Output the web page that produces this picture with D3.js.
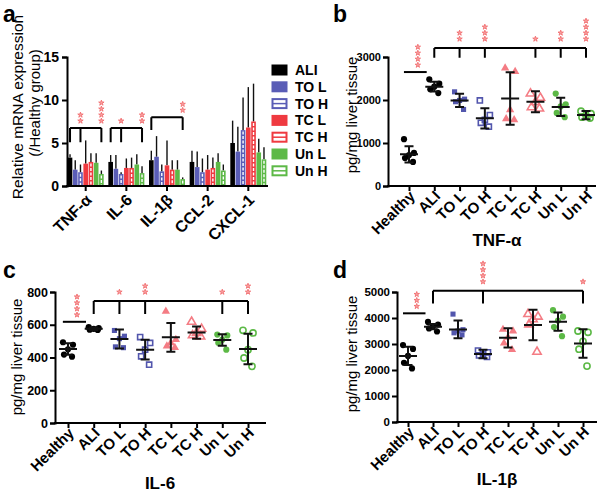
<!DOCTYPE html>
<html>
<head>
<meta charset="utf-8">
<script src="https://cdn.jsdelivr.net/npm/d3@7/dist/d3.min.js"></script>
<style>
  body { margin: 0; background: #fff; }
  text { font-family: "Liberation Sans", Arial, sans-serif; }
</style>
</head>
<body>
<svg id="fig" width="600" height="496"></svg>
<script>
// ---- panel a : relative mRNA expression (mean, SD) ----
const genes = ['TNF-α', 'IL-6', 'IL-1β', 'CCL-2', 'CXCL-1'];
const groups = ['ALI', 'TO L', 'TO H', 'TC L', 'TC H', 'Un L', 'Un H'];

const mrnaALI = [3.3, 2.8, 3.0, 2.8, 5.0];
const mrnaTOL = [1.9, 2.0, 3.4, 2.2, 4.0];
const mrnaTOH = [1.6, 1.4, 1.7, 1.6, 6.5];
const mrnaTCL = [2.6, 2.1, 2.4, 1.9, 6.8];
const mrnaTCH = [2.8, 2.1, 1.9, 2.1, 7.5];
const mrnaUnL = [2.7, 2.5, 1.9, 2.8, 3.9];
const mrnaUnH = [1.4, 1.5, 0.8, 1.8, 3.1];

const sdALI = [0.4, 0.8, 1.1, 1.3, 2.6];
const sdTOL = [1.1, 1.6, 2.4, 1.8, 2.9];
const sdTOH = [0.9, 0.2, 0.8, 1.6, 3.8];
const sdTCL = [2.7, 1.1, 2.9, 1.7, 4.7];
const sdTCH = [1.0, 1.2, 1.1, 1.2, 4.4];
const sdUnL = [1.1, 1.2, 1.1, 1.0, 1.6];
const sdUnH = [0.4, 0.8, 0.2, 0.7, 1.4];

// ---- panels b-d : cytokine protein levels, 5 animals per group ----
const cats = ['Healthy', 'ALI', 'TO L', 'TO H', 'TC L', 'TC H', 'Un L', 'Un H'];

const tnfPoints = [
  [1090, 770, 720, 650, 560],
  [2480, 2380, 2310, 2250, 2160],
  [2190, 2020, 1990, 1960, 1780],
  [1990, 1650, 1540, 1470, 1380],
  [2740, 2660, 1770, 1560, 1540],
  [2150, 2050, 1950, 1830, 1800],
  [2150, 1900, 1850, 1700, 1600],
  [1740, 1680, 1640, 1600, 1580]
];
const tnfMean = [737, 2310, 1990, 1575, 2035, 1960, 1840, 1650];
const tnfSd = [190, 115, 155, 235, 610, 245, 210, 95];

const il6Points = [
  [493, 478, 450, 418, 405],
  [585, 580, 575, 570, 568],
  [565, 530, 515, 465, 460],
  [525, 489, 448, 407, 356],
  [682, 509, 489, 470, 460],
  [618, 575, 550, 535, 528],
  [540, 535, 509, 490, 448],
  [566, 550, 448, 397, 346]
];
const il6Mean = [452, 575, 513, 448, 523, 552, 507, 452];
const il6Sd = [35, 8, 58, 60, 88, 37, 35, 93];

const il1bPoints = [
  [2960, 2810, 2540, 2280, 2060],
  [3850, 3750, 3680, 3600, 3480],
  [4150, 3550, 3500, 3430, 3350],
  [2750, 2680, 2600, 2560, 2500],
  [3560, 3500, 3260, 3030, 2780],
  [4150, 4050, 3950, 3750, 2700],
  [4300, 4050, 3900, 3650, 3300],
  [3500, 3450, 3100, 2800, 2150]
];
const il1bMean = [2540, 3667, 3560, 2615, 3240, 3730, 3860, 3020];
const il1bSd = [350, 100, 340, 160, 370, 590, 350, 550];

// significance stars: [group, number of stars]
const sigMrna = [
  {gene: 'TNF-α', arms: ['ALI', 'TO H', 'Un H'], stars: [['TO H', 2], ['Un H', 4]]},
  {gene: 'IL-6', arms: ['ALI', 'TO H', 'Un H'], stars: [['TO H', 1], ['Un H', 2]]},
  {gene: 'IL-1β', arms: ['ALI', 'Un H'], stars: [['Un H', 2]]}
];
const sigTnf = {healthy: 4, arms: ['TO L', 'TO H', 'TC H', 'Un L', 'Un H'], stars: [2, 3, 1, 2, 4]};
const sigIl6 = {healthy: 4, arms: ['TO L', 'TO H', 'Un L', 'Un H'], stars: [1, 2, 1, 2]};
const sigIl1b = {healthy: 3, arms: ['TO H', 'Un H'], stars: [4, 1]};

// ---- styles ----
const barColor = {ALI: '#000', 'TO L': '#5a5db6', 'TO H': '#5a5db6', 'TC L': '#ef3a40', 'TC H': '#ef3a40', 'Un L': '#5db947', 'Un H': '#5db947'};
const dotColor = {Healthy: '#000', ALI: '#000', 'TO L': '#5256ad', 'TO H': '#5256ad', 'TC L': '#f47c84', 'TC H': '#f47c84', 'Un L': '#5cb946', 'Un H': '#5cb946'};
const dotShape = {Healthy: d3.symbolCircle, ALI: d3.symbolCircle, 'TO L': d3.symbolSquare, 'TO H': d3.symbolSquare,
                  'TC L': d3.symbolTriangle, 'TC H': d3.symbolTriangle, 'Un L': d3.symbolCircle, 'Un H': d3.symbolCircle};
const isOpen = g => /H$/.test(g) && g !== 'Healthy';
const starColor = '#f26e70';
const jitter = [-5, 5, 0, -4, 4];

const svg = d3.select('#fig');

const drawStars = (g, x, yBottom, n) => {
  for (let i = 0; i < n; i++) {
    g.append('path')
      .attr('d', d3.symbol(d3.symbolStar).size(9)())
      .attr('transform', `translate(${x},${yBottom - i * 6})`)
      .attr('fill', '#f8a3a3')
      .attr('stroke', starColor)
      .attr('stroke-width', 0.9);
  }
};

const styleAxis = (ax, fs) => {
  ax.select('.domain').attr('stroke-width', 2);
  ax.selectAll('.tick line').attr('stroke-width', 2);
  ax.selectAll('.tick text').attr('font-size', fs).attr('font-weight', 'bold').attr('fill', '#000');
};

// panel letters
[['a', 3, 22], ['b', 333, 22], ['c', 3, 278], ['d', 333, 278]].forEach(([t, x, y]) => {
  svg.append('text').text(t).attr('x', x).attr('y', y)
    .attr('font-size', 23).attr('font-weight', 'bold');
});

// ================= panel a =================
const ya = d3.scaleLinear().domain([0, 15]).range([186, 57]);
const xa = d3.scaleBand().domain(genes).range([67, 267]).paddingInner(0.1).paddingOuter(0.01);
const xin = d3.scaleBand().domain(groups).range([0, xa.bandwidth()]);

const gA = svg.append('g');
const mrna = [mrnaALI, mrnaTOL, mrnaTOH, mrnaTCL, mrnaTCH, mrnaUnL, mrnaUnH];
const sds = [sdALI, sdTOL, sdTOH, sdTCL, sdTCH, sdUnL, sdUnH];

const barData = [];
groups.forEach((grp, gi) => genes.forEach((gene, k) => {
  barData.push({grp, gene, v: mrna[gi][k], sd: sds[gi][k]});
}));

// error bars behind bars
gA.selectAll('line.err').data(barData).enter().append('line')
  .attr('x1', d => xa(d.gene) + xin(d.grp) + xin.bandwidth() / 2)
  .attr('x2', d => xa(d.gene) + xin(d.grp) + xin.bandwidth() / 2)
  .attr('y1', d => ya(d.v))
  .attr('y2', d => ya(d.v + d.sd))
  .attr('stroke', '#111').attr('stroke-width', 1.4);

gA.selectAll('rect.bar').data(barData).enter().append('rect')
  .attr('x', d => xa(d.gene) + xin(d.grp) + 0.3)
  .attr('width', xin.bandwidth() - 0.6)
  .attr('y', d => ya(d.v))
  .attr('height', d => ya(0) - ya(d.v))
  .attr('fill', d => barColor[d.grp]);

gA.selectAll('line.stripe').data(barData.filter(d => isOpen(d.grp))).enter().append('line')
  .attr('x1', d => xa(d.gene) + xin(d.grp) + xin.bandwidth() / 2)
  .attr('x2', d => xa(d.gene) + xin(d.grp) + xin.bandwidth() / 2)
  .attr('y1', d => ya(d.v) + 1.5)
  .attr('y2', d => ya(0) - 1)
  .attr('stroke', '#fff').attr('stroke-width', 1.4).attr('stroke-dasharray', '3,1.5');

const axYa = gA.append('g').attr('transform', 'translate(67,0)')
  .call(d3.axisLeft(ya).tickValues([0, 5, 10, 15]).tickSize(5).tickPadding(3));
styleAxis(axYa, 14);
const axXa = gA.append('g').attr('transform', 'translate(0,186)')
  .call(d3.axisBottom(xa).tickSize(5).tickSizeOuter(0).tickFormat(''));
styleAxis(axXa, 14);
axXa.select('.domain').attr('d', 'M66,0H268');

genes.forEach(gene => {
  const cx = xa(gene) + xa.bandwidth() / 2;
  gA.append('text').text(gene)
    .attr('transform', `translate(${cx + 7},${201}) rotate(-45)`)
    .attr('text-anchor', 'end').attr('font-size', 16).attr('font-weight', 'bold');
});

gA.append('text').text('Relative mRNA expression')
  .attr('transform', 'translate(23,107) rotate(-90)')
  .attr('text-anchor', 'middle').attr('font-size', 15.5);
gA.append('text').text('(/Healthy group)')
  .attr('transform', 'translate(40,103) rotate(-90)')
  .attr('text-anchor', 'middle').attr('font-size', 15);

// brackets on panel a
const bracketLevel = {'TNF-α': [6.75, 5.1], 'IL-6': [6.75, 5.1], 'IL-1β': [8.0, 6.5]};
sigMrna.forEach(s => {
  const [lev, drop] = bracketLevel[s.gene];
  const xs = s.arms.map(g => xa(s.gene) + xin(g) + xin.bandwidth() / 2);
  gA.append('path')
    .attr('d', `M${xs[0]},${ya(lev)}H${xs[xs.length - 1]}` + xs.map(x => `M${x},${ya(lev)}V${ya(drop)}`).join(''))
    .attr('fill', 'none').attr('stroke', '#000').attr('stroke-width', 2);
  s.stars.forEach(([g, n]) => drawStars(gA, xa(s.gene) + xin(g) + xin.bandwidth() / 2, ya(lev) - 7, n));
});

// legend
const lg = gA.append('g');
groups.forEach((g, i) => {
  const y = 70 + i * 16.8;
  if (isOpen(g)) {
    lg.append('rect').attr('x', 272.5).attr('y', y - 4.5).attr('width', 14).attr('height', 9)
      .attr('fill', '#fff').attr('stroke', barColor[g]).attr('stroke-width', 2);
    lg.append('line').attr('x1', 273).attr('x2', 286).attr('y1', y).attr('y2', y)
      .attr('stroke', barColor[g]).attr('stroke-width', 1.5);
  } else {
    lg.append('rect').attr('x', 271.5).attr('y', y - 5.5).attr('width', 16).attr('height', 11)
      .attr('fill', barColor[g]);
  }
  lg.append('text').text(g).attr('x', 295).attr('y', y + 5)
    .attr('font-size', 14).attr('font-weight', 'bold');
});

// ================= scatter panels =================
function scatterPanel(cfg) {
  const g = svg.append('g');
  const y = d3.scaleLinear().domain([0, cfg.max]).range([cfg.y0, cfg.y1]);
  const x = d3.scalePoint().domain(cats).range([cfg.xa, cfg.xb]);
  const step = x.step();

  const axY = g.append('g').attr('transform', `translate(${cfg.ax},0)`)
    .call(d3.axisLeft(y).tickValues(d3.range(0, cfg.max + 1, cfg.step)).tickSize(5).tickPadding(2).tickFormat(d3.format('d')));
  styleAxis(axY, cfg.fs);
  const axX = g.append('g').attr('transform', `translate(0,${cfg.y0})`)
    .call(d3.axisBottom(x).tickSize(5).tickSizeOuter(0).tickFormat(''));
  styleAxis(axX, cfg.fs);
  axX.select('.domain').attr('d', `M${cfg.ax - 1},0H${cfg.xe}`);

  cats.forEach(c => {
    g.append('text').text(c)
      .attr('transform', `translate(${x(c) + 7},${cfg.y0 + 11}) rotate(-45)`)
      .attr('text-anchor', 'end').attr('font-size', 15).attr('font-weight', 'bold');
  });

  // points
  cats.forEach((c, i) => {
    cfg.points[i].forEach((v, j) => {
      g.append('path')
        .attr('d', d3.symbol(dotShape[c]).size(dotShape[c] === d3.symbolSquare ? 26 : 30)())
        .attr('transform', `translate(${x(c) + jitter[j]},${y(v)})`)
        .attr('fill', isOpen(c) ? 'none' : dotColor[c])
        .attr('stroke', dotColor[c])
        .attr('stroke-width', isOpen(c) ? 1.6 : 0);
    });
    const cx = x(c), m = cfg.mean[i], s = cfg.sd[i];
    g.append('path')
      .attr('d', `M${cx - 9},${y(m)}H${cx + 9}M${cx},${y(m - s)}V${y(m + s)}M${cx - 4.5},${y(m - s)}H${cx + 4.5}M${cx - 4.5},${y(m + s)}H${cx + 4.5}`)
      .attr('fill', 'none').attr('stroke', '#111').attr('stroke-width', 2);
  });

  // healthy vs ALI
  const xh = x('Healthy');
  g.append('line').attr('x1', xh - 0.2 * step).attr('x2', xh + 0.7 * step)
    .attr('y1', y(cfg.hline)).attr('y2', y(cfg.hline))
    .attr('stroke', '#000').attr('stroke-width', 2);
  drawStars(g, xh + 0.35 * step, y(cfg.hline) - 7, cfg.sig.healthy);

  // ALI vs treatments
  const arms = ['ALI'].concat(cfg.sig.arms);
  g.append('path')
    .attr('d', `M${x('ALI')},${y(cfg.bracket)}H${x('Un H')}` + arms.map(a => `M${x(a)},${y(cfg.bracket)}V${y(cfg.drop)}`).join(''))
    .attr('fill', 'none').attr('stroke', '#000').attr('stroke-width', 2);
  cfg.sig.arms.forEach((a, i) => drawStars(g, x(a), y(cfg.bracket) - 9, cfg.sig.stars[i]));

  g.append('text').text(cfg.title)
    .attr('x', cfg.tx).attr('y', cfg.ty).attr('text-anchor', 'middle')
    .attr('font-size', 17).attr('font-weight', 'bold');
  g.append('text').text('pg/mg liver tissue')
    .attr('transform', `translate(${cfg.ytx},${cfg.yty}) rotate(-90)`)
    .attr('text-anchor', 'middle').attr('font-size', 15);
}

scatterPanel({
  points: tnfPoints, mean: tnfMean, sd: tnfSd, sig: sigTnf,
  max: 3000, step: 1000, y0: 186, y1: 57, ax: 388, xa: 409, xb: 586, xe: 596, fs: 11,
  hline: 2650, bracket: 3210, drop: 2980,
  title: 'TNF-α', tx: 497, ty: 246, ytx: 357, yty: 115
});
scatterPanel({
  points: il6Points, mean: il6Mean, sd: il6Sd, sig: sigIl6,
  max: 800, step: 200, y0: 423, y1: 292, ax: 55, xa: 68, xb: 248, xe: 266, fs: 12.5,
  hline: 618, bracket: 745, drop: 665,
  title: 'IL-6', tx: 160, ty: 489, ytx: 22, yty: 357
});
scatterPanel({
  points: il1bPoints, mean: il1bMean, sd: il1bSd, sig: sigIl1b,
  max: 5000, step: 1000, y0: 422, y1: 292, ax: 397, xa: 408, xb: 583, xe: 597, fs: 11.5,
  hline: 4180, bracket: 5050, drop: 4560,
  title: 'IL-1β', tx: 497, ty: 485, ytx: 357, yty: 354
});
</script>
</body>
</html>
